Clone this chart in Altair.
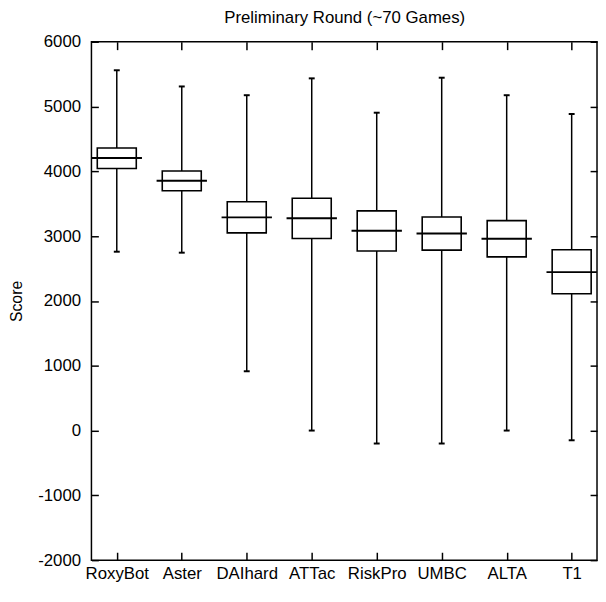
import altair as alt
import pandas as pd

teams = ["RoxyBot", "Aster", "DAIhard", "ATTac", "RiskPro", "UMBC", "ALTA", "T1"]
whisker_hi = [5560, 5310, 5175, 5435, 4905, 5445, 5175, 4885]
q3 = [4360, 4005, 3530, 3585, 3390, 3295, 3240, 2790]
median = [4205, 3855, 3290, 3275, 3085, 3040, 2960, 2445]
q1 = [4045, 3700, 3050, 2965, 2770, 2785, 2680, 2110]
whisker_lo = [2760, 2745, 915, 0, -200, -200, 0, -150]
y_ticks = [-2000, -1000, 0, 1000, 2000, 3000, 4000, 5000, 6000]
chart_title = "Preliminary Round (~70 Games)"

df = pd.DataFrame({"team": teams, "hi": whisker_hi, "q3": q3, "med": median,
                   "q1": q1, "lo": whisker_lo})

FONT = "Liberation Sans"
xs = alt.Scale(domain=teams, type="point", padding=0.39)
ys = alt.Scale(domain=[-2000, 6000], nice=False, zero=False)

x_bottom = alt.Axis(orient="bottom", title=None, offset=-8, tickSize=8, domain=False,
                    grid=False, labelFontSize=17, labelFont=FONT, labelColor="black",
                    labelPadding=6, labelAngle=0, tickColor="black", tickWidth=1.5)
x_top = alt.Axis(orient="top", title=chart_title, offset=-8, tickSize=8, domain=False,
                 grid=False, labels=False, tickColor="black", tickWidth=1.5,
                 titleFont=FONT, titleFontSize=17, titleFontWeight="normal",
                 titleColor="black", titlePadding=15)
y_left = alt.Axis(orient="left", title="Score", values=y_ticks, offset=-7, tickSize=7,
                  domain=False, grid=False, labelFontSize=17, labelFont=FONT,
                  labelColor="black", labelPadding=11, tickColor="black", tickWidth=1.5,
                  labelExpr="'' + datum.value",
                  titleFont=FONT, titleFontSize=16, titleFontWeight="normal",
                  titleColor="black", titlePadding=13)
y_right = alt.Axis(orient="right", title=None, values=y_ticks, offset=-7, tickSize=7,
                   domain=False, grid=False, labels=False, tickColor="black", tickWidth=1.5)

base = alt.Chart(df)

whiskers = base.mark_rule(color="black", strokeWidth=1.5).encode(
    x=alt.X("team:N", scale=xs, axis=x_bottom, sort=teams),
    y=alt.Y("lo:Q", scale=ys, axis=y_left),
    y2="hi:Q",
)

boxes = base.mark_bar(size=39.5, fill="white", stroke="black", strokeWidth=1.6,
                      opacity=1).encode(
    x=alt.X("team:N", scale=xs, axis=None, sort=teams),
    y=alt.Y("q1:Q", scale=ys, axis=None),
    y2="q3:Q",
)

medians = base.mark_tick(color="black", size=51, thickness=2, opacity=1).encode(
    x=alt.X("team:N", scale=xs, axis=x_top, sort=teams),
    y=alt.Y("med:Q", scale=ys, axis=y_right),
)

caps_hi = base.mark_tick(color="black", size=6, thickness=2, opacity=1).encode(
    x=alt.X("team:N", scale=xs, axis=None, sort=teams),
    y=alt.Y("hi:Q", scale=ys, axis=None),
)
caps_lo = base.mark_tick(color="black", size=6, thickness=2, opacity=1).encode(
    x=alt.X("team:N", scale=xs, axis=None, sort=teams),
    y=alt.Y("lo:Q", scale=ys, axis=None),
)

chart = alt.layer(whiskers, boxes, medians, caps_hi, caps_lo).resolve_axis(
    x="independent", y="independent"
).properties(
    width=512,
    height=525,
    autosize=alt.AutoSizeParams(type="none"),
    padding={"left": 84.5, "top": 30.5, "right": 1, "bottom": 23.5},
).configure_view(stroke="black", strokeWidth=1.5)

chart.save("out.html", embed_options={"renderer": "svg", "actions": False})
